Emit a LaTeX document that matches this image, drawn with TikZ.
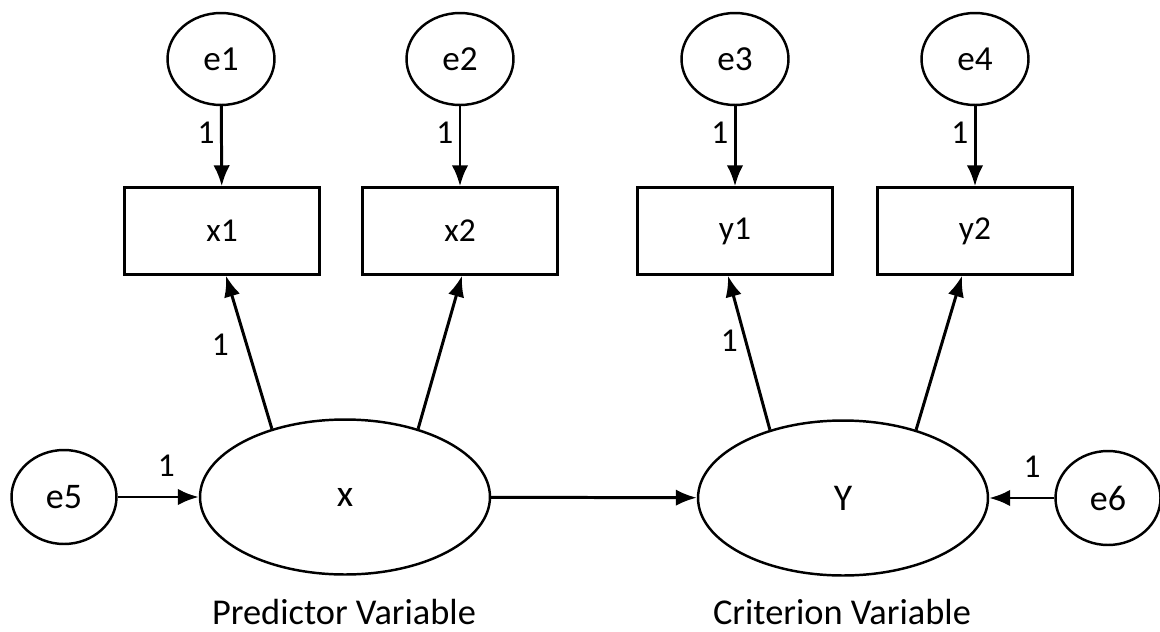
\documentclass[tikz,border=0pt]{standalone}
\usepackage{fontspec}
\setmainfont{Carlito}
\usepackage{tikz}
\usetikzlibrary{arrows.meta,shapes,positioning,calc}

\begin{document}
\begin{tikzpicture}[x=0.02cm,y=-0.02cm]
\tikzstyle{errtop}=[draw, ellipse, line width=1.4pt, inner sep=0pt, minimum width=2.14cm, minimum height=1.84cm, font=\fontsize{20}{24}\selectfont]
\tikzstyle{errside}=[draw, ellipse, line width=1.4pt, inner sep=0pt, minimum width=2.1cm, minimum height=1.88cm, font=\fontsize{20.5}{24}\selectfont]
\tikzstyle{obsbox}=[draw, rectangle, line width=1.4pt, minimum width=3.9cm, minimum height=1.74cm, font=\fontsize{19}{23}\selectfont]
\tikzstyle{latent}=[draw, ellipse, line width=1.4pt, inner sep=0pt, minimum width=5.8cm, minimum height=3.1cm, font=\fontsize{21.5}{25}\selectfont]
\tikzstyle{caption}=[anchor=base, font=\fontsize{20.7}{24}\selectfont]
\tikzstyle{lbl}=[inner sep=3pt, font=\fontsize{19}{22}\selectfont]
\tikzstyle{arr}=[line width=1.7pt, -{Latex[length=0.42cm,width=0.33cm]}]

\useasboundingbox (0,0) rectangle (1160,632);

% error terms of the indicators
\node[errtop] (e1) at (221,59) {e1};
\node[errtop] (e2) at (460,59) {e2};
\node[errtop] (e3) at (735,59) {e3};
\node[errtop] (e4) at (975,59) {e4};

% observed indicators
\node[obsbox] (x1) at (222,231) {x1};
\node[obsbox] (x2) at (460,231) {x2};
\node[obsbox] (y1) at (735,231) {y1};
\node[obsbox] (y2) at (975,231) {y2};

% latent variables
\node[latent] (X) at (345,497) {x};
\node[latent] (Y) at (843,498) {Y};
\node[errside] (e5) at (64,497) {e5};
\node[errside] (e6) at (1108,498) {e6};

\node[caption] (pv) at (344,624) {Predictor Variable};
\node[caption] (cv) at (842,624) {Criterion Variable};

\draw[arr] (e1) -- node[lbl,left,pos=0.33] {1} (x1);
\draw[arr] (e2) -- node[lbl,left,pos=0.33] {1} (x2);
\draw[arr] (e3) -- node[lbl,left,pos=0.33] {1} (y1);
\draw[arr] (e4) -- node[lbl,left,pos=0.33] {1} (y2);

\draw[arr] (X.137) -- node[lbl,left=0.22cm,pos=0.55] {1} ($(x1.south)+(4,0)$);
\draw[arr] (X.43) -- ($(x2.south)+(2,0)$);
\draw[arr] (Y.137) -- node[lbl,left=0.02cm,pos=0.58] {1} ($(y1.south)+(-7,0)$);
\draw[arr] (Y.43) -- ($(y2.south)+(-13,0)$);

\draw[arr] (e5) -- node[lbl,above=0.28cm,pos=0.6] {1} (X);
\draw[arr] (e6) -- node[lbl,above=0.28cm,pos=0.34] {1} (Y);
\draw[arr] (X) -- (Y);
\end{tikzpicture}
\end{document}
